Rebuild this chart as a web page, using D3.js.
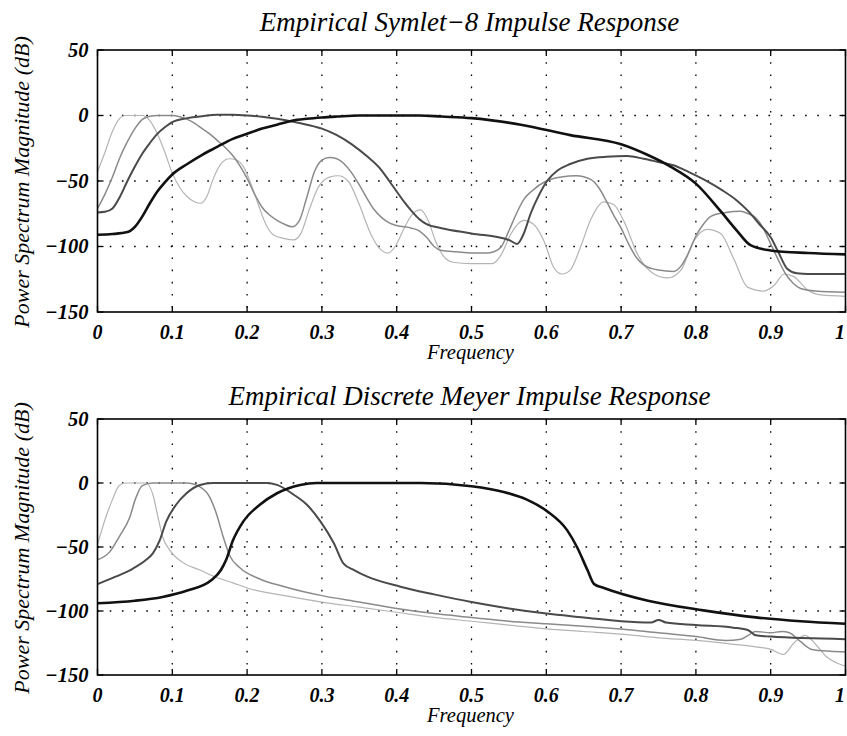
<!DOCTYPE html>
<html><head><meta charset="utf-8">
<script src="https://cdn.jsdelivr.net/npm/d3@7"></script>
<style>body{margin:0;background:#fff}svg{display:block}</style>
</head><body>
<svg id="c" width="847" height="736"></svg>
<script>
// ---------- data ----------
const xTicks = [0,0.1,0.2,0.3,0.4,0.5,0.6,0.7,0.8,0.9,1];
const xTickLabels = ["0","0.1","0.2","0.3","0.4","0.5","0.6","0.7","0.8","0.9","1"];
const yTicks = [50,0,-50,-100,-150];
const yTickLabels = ["50","0","\u221250","\u2212100","\u2212150"];
const titles = ["Empirical Symlet\u22128 Impulse Response","Empirical Discrete Meyer Impulse Response"];
const xLabel = "Frequency";
const yLabel = "Power Spectrum Magnitude (dB)";

// Symlet-8 (top panel): [frequency, dB]
const symletA = [[0,-43],[0.01,-28],[0.02,-12],[0.03,-2],[0.037,0],[0.06,0],[0.07,-4],[0.08,-14],[0.09,-28],[0.1,-44],[0.11,-55],[0.12,-62],[0.13,-66],[0.138,-67],[0.146,-62],[0.155,-48],[0.165,-37],[0.176,-33],[0.186,-34],[0.196,-40],[0.205,-52],[0.215,-68],[0.225,-83],[0.235,-91],[0.25,-94],[0.262,-95],[0.272,-90],[0.283,-72],[0.295,-55],[0.31,-47],[0.322,-46],[0.335,-50],[0.35,-68],[0.365,-90],[0.378,-102],[0.388,-105],[0.398,-100],[0.41,-86],[0.42,-76],[0.432,-72],[0.442,-80],[0.452,-96],[0.462,-107],[0.475,-112],[0.5,-113],[0.528,-113],[0.54,-106],[0.552,-91],[0.57,-80],[0.583,-83],[0.597,-96],[0.61,-116],[0.621,-121],[0.632,-118],[0.646,-100],[0.659,-80],[0.677,-66],[0.69,-68],[0.704,-81],[0.722,-106],[0.744,-121],[0.762,-124],[0.78,-118],[0.797,-96],[0.815,-87],[0.833,-90],[0.851,-110],[0.869,-131],[0.891,-134],[0.904,-130],[0.918,-121],[0.931,-123],[0.949,-133],[0.967,-137],[1,-138]];
const symletB = [[0,-71],[0.01,-60],[0.02,-47],[0.03,-32],[0.04,-20],[0.05,-10],[0.06,-3],[0.07,-0.5],[0.08,0],[0.1,0],[0.11,-1],[0.12,-3],[0.13,-6],[0.14,-10],[0.15,-14],[0.16,-19],[0.17,-24],[0.18,-30],[0.19,-38],[0.2,-48],[0.21,-60],[0.22,-70],[0.23,-76],[0.24,-80],[0.25,-83],[0.26,-85],[0.27,-80],[0.28,-62],[0.29,-43],[0.3,-34],[0.31,-32],[0.32,-33],[0.33,-37],[0.34,-44],[0.35,-53],[0.36,-63],[0.37,-72],[0.38,-78],[0.39,-82],[0.4,-84],[0.42,-86],[0.43,-88],[0.44,-93],[0.45,-100],[0.46,-103],[0.48,-104],[0.5,-105],[0.52,-105],[0.53,-104],[0.54,-100],[0.55,-88],[0.56,-75],[0.57,-64],[0.58,-58],[0.6,-50],[0.62,-47],[0.64,-46],[0.66,-49],[0.67,-55],[0.68,-65],[0.69,-76],[0.7,-86],[0.71,-98],[0.72,-108],[0.73,-114],[0.75,-118],[0.77,-119],[0.78,-115],[0.79,-105],[0.8,-92],[0.81,-83],[0.82,-77],[0.84,-74],[0.86,-73],[0.87,-75],[0.88,-78],[0.89,-86],[0.9,-98],[0.91,-110],[0.92,-121],[0.93,-128],[0.94,-132],[0.96,-134],[1,-135]];
const symletC = [[0,-74],[0.01,-73.5],[0.02,-71],[0.03,-62],[0.04,-50],[0.05,-39],[0.06,-29],[0.07,-21],[0.08,-14],[0.09,-9],[0.1,-5],[0.12,-2],[0.14,-0.5],[0.16,0.5],[0.18,0.5],[0.2,0],[0.22,-1],[0.24,-2.5],[0.26,-4.5],[0.28,-7],[0.3,-10],[0.32,-15],[0.34,-22],[0.36,-31],[0.38,-42],[0.39,-50],[0.4,-58],[0.41,-66],[0.42,-73],[0.43,-79],[0.44,-83],[0.46,-86],[0.5,-90],[0.55,-95],[0.561,-98],[0.57,-90],[0.579,-75],[0.59,-61],[0.601,-50],[0.615,-42],[0.632,-37],[0.655,-33],[0.68,-31.5],[0.708,-31],[0.73,-33],[0.75,-35.5],[0.77,-38],[0.79,-43],[0.811,-49],[0.835,-57],[0.855,-65],[0.87,-73],[0.885,-83],[0.9,-93],[0.91,-104],[0.922,-117],[0.935,-120.5],[0.95,-121],[1,-121]];
const symletD = [[0,-91],[0.02,-90.5],[0.04,-89],[0.05,-85],[0.06,-77],[0.07,-67],[0.08,-58],[0.09,-51],[0.1,-45],[0.12,-37],[0.14,-30],[0.16,-24],[0.18,-18],[0.2,-14],[0.22,-10],[0.24,-7],[0.26,-4],[0.28,-2.5],[0.3,-1.5],[0.32,-0.8],[0.35,0],[0.4,0],[0.43,0],[0.46,-0.8],[0.5,-2],[0.566,-7],[0.632,-15],[0.7,-22],[0.735,-30],[0.766,-39],[0.8,-52],[0.833,-73],[0.855,-88],[0.873,-99],[0.9,-103],[0.95,-105],[1,-106]];

// Discrete Meyer (bottom panel): [frequency, dB]
const meyerA = [[0,-48],[0.011,-27],[0.02,-13],[0.029,-2],[0.038,0],[0.065,0],[0.074,-9],[0.081,-27],[0.087,-42],[0.096,-52],[0.114,-62],[0.137,-68],[0.16,-74],[0.181,-78],[0.2,-82],[0.25,-88],[0.3,-93],[0.35,-97],[0.4,-101],[0.45,-105],[0.5,-108],[0.55,-111],[0.6,-114],[0.65,-116],[0.7,-118],[0.75,-121],[0.8,-123],[0.85,-126],[0.88,-128],[0.9,-130],[0.917,-134],[0.931,-125],[0.946,-119],[0.96,-126],[0.975,-136],[0.99,-141],[1,-143]];
const meyerB = [[0,-60],[0.016,-54],[0.029,-42],[0.043,-27],[0.051,-12],[0.06,-2],[0.074,0],[0.119,0],[0.137,-3],[0.15,-11],[0.159,-24],[0.168,-42],[0.177,-57],[0.19,-66],[0.217,-75],[0.25,-81],[0.3,-88],[0.35,-93],[0.4,-98],[0.45,-102],[0.5,-105],[0.55,-108],[0.6,-110],[0.65,-112],[0.7,-114],[0.75,-117],[0.8,-120],[0.84,-123],[0.86,-122],[0.87,-119],[0.88,-116],[0.9,-117],[0.915,-116],[0.925,-117],[0.94,-124],[0.955,-130],[0.98,-131.5],[1,-132]];
const meyerC = [[0,-79],[0.025,-73],[0.047,-67],[0.065,-60],[0.074,-55],[0.083,-45],[0.092,-30],[0.105,-17],[0.119,-8],[0.137,-1.5],[0.154,0],[0.226,0],[0.24,-1.5],[0.262,-9],[0.28,-17],[0.298,-30],[0.316,-47],[0.329,-63],[0.343,-68],[0.36,-73],[0.405,-81],[0.45,-87],[0.5,-93],[0.55,-98],[0.6,-102],[0.65,-105],[0.7,-108],[0.74,-109],[0.75,-107],[0.76,-109],[0.8,-111],[0.85,-113],[0.87,-115],[0.88,-119],[0.9,-120],[1,-122]];
const meyerD = [[0,-94],[0.05,-92],[0.087,-89],[0.12,-84],[0.152,-76],[0.165,-68],[0.172,-60],[0.181,-45],[0.195,-30],[0.217,-17],[0.24,-8],[0.271,-1.5],[0.293,0],[0.432,0],[0.5,-2.5],[0.543,-7],[0.574,-13],[0.601,-22],[0.628,-37],[0.641,-50],[0.655,-68],[0.664,-79],[0.677,-82],[0.736,-92],[0.81,-99.5],[0.88,-105],[0.94,-108],[1,-110]];

// ---------- drawing ----------
const FONT = "'Liberation Serif','Times New Roman',Times,serif";
const svg = d3.select("#c");
const styles = [
  {color:"#b4b4b4", w:1.2},
  {color:"#8a8a8a", w:1.5},
  {color:"#4a4a4a", w:2.0},
  {color:"#111111", w:2.6}
];
const panels = [
  {title:titles[0], top:50, bottom:312, series:[symletA,symletB,symletC,symletD], titleY:31},
  {title:titles[1], top:419, bottom:675, series:[meyerA,meyerB,meyerC,meyerD], titleY:405}
];
const left = 97.5, right = 845.5;

panels.forEach(p => {
  const x = d3.scaleLinear().domain([0,1]).range([left,right]);
  const y = d3.scaleLinear().domain([-150,50]).range([p.bottom,p.top]);
  const g = svg.append("g");

  // grid
  const grid = g.append("g").attr("stroke","#000").attr("stroke-width",1.3).attr("stroke-dasharray","1.6,10.6");
  xTicks.filter(t => t>0 && t<1).forEach(t => {
    grid.append("line").attr("x1",x(t)).attr("x2",x(t)).attr("y1",p.top).attr("y2",p.bottom);
  });
  yTicks.filter(t => t<50 && t>-150).forEach(t => {
    grid.append("line").attr("x1",left).attr("x2",right).attr("y1",y(t)).attr("y2",y(t));
  });

  // curves
  const line = d3.line().x(d=>x(d[0])).y(d=>y(d[1])).curve(d3.curveMonotoneX);
  p.series.forEach((s,i) => {
    g.append("path").datum(s).attr("d",line).attr("fill","none")
      .attr("stroke",styles[i].color).attr("stroke-width",styles[i].w)
      .attr("stroke-linejoin","round");
  });

  // frame
  g.append("rect").attr("x",left).attr("y",p.top).attr("width",right-left).attr("height",p.bottom-p.top)
    .attr("fill","none").attr("stroke","#000").attr("stroke-width",1.6);

  // ticks (inward)
  const tk = g.append("g").attr("stroke","#000").attr("stroke-width",1.3);
  xTicks.forEach(t => {
    tk.append("line").attr("x1",x(t)).attr("x2",x(t)).attr("y1",p.bottom).attr("y2",p.bottom-6);
    tk.append("line").attr("x1",x(t)).attr("x2",x(t)).attr("y1",p.top).attr("y2",p.top+6);
  });
  yTicks.forEach(t => {
    tk.append("line").attr("x1",left).attr("x2",left+6).attr("y1",y(t)).attr("y2",y(t));
    tk.append("line").attr("x1",right).attr("x2",right-6).attr("y1",y(t)).attr("y2",y(t));
  });

  // tick labels
  xTicks.forEach((t,i) => {
    g.append("text").attr("x",Math.min(x(t),840)).attr("y",p.bottom+27).attr("text-anchor","middle")
      .attr("font-family",FONT).attr("font-style","italic").attr("font-size",20).attr("font-weight","bold")
      .text(xTickLabels[i]);
  });
  yTicks.forEach((t,i) => {
    g.append("text").attr("x",left-9).attr("y",y(t)+6.5).attr("text-anchor","end")
      .attr("font-family",FONT).attr("font-style","italic").attr("font-size",20.5).attr("font-weight","bold")
      .text(yTickLabels[i]);
  });

  // axis labels
  g.append("text").attr("x",(left+right)/2 - 1).attr("y",p.bottom+47).attr("text-anchor","middle")
    .attr("font-family",FONT).attr("font-style","italic").attr("font-size",20.5).text(xLabel);
  g.append("text").attr("transform",`translate(29,${(p.top+p.bottom)/2 + 1}) rotate(-90)`).attr("text-anchor","middle")
    .attr("font-family",FONT).attr("font-style","italic").attr("font-size",22).text(yLabel);

  // title
  g.append("text").attr("x",(left+right)/2 - 2).attr("y",p.titleY).attr("text-anchor","middle")
    .attr("font-family",FONT).attr("font-style","italic").attr("font-size",27).text(p.title);
});
</script>
</body></html>
